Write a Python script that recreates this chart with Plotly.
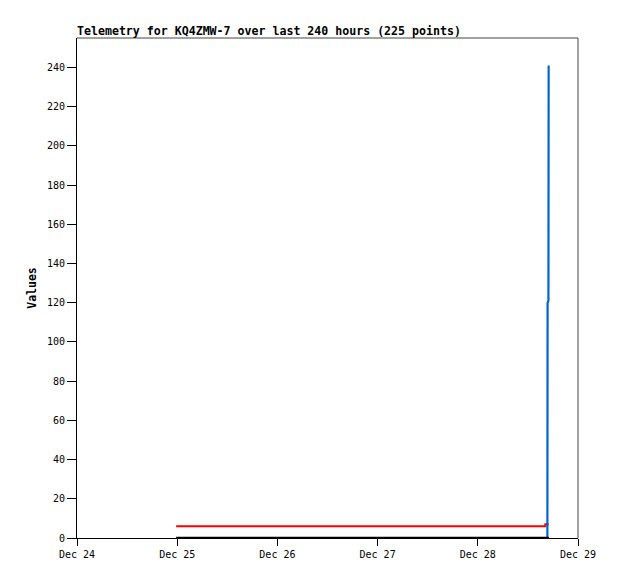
import plotly.graph_objects as go

# Data
red_times = ["2024-12-24 23:45", "2024-12-28 16:05", "2024-12-28 16:10", "2024-12-28 17:00"]
red_values = [6, 6, 7, 7]

black_times = ["2024-12-24 23:45", "2024-12-28 17:05"]
black_values = [0, 0]

blue_times = ["2024-12-24 23:45", "2024-12-28 16:40", "2024-12-28 16:43", "2024-12-28 16:55", "2024-12-28 16:58"]
blue_values = [0, 0, 120, 121, 241]

x_range = ["2024-12-24", "2024-12-29"]
y_range = [0, 255]
y_ticks = [0, 20, 40, 60, 80, 100, 120, 140, 160, 180, 200, 220, 240]

title_text = "Telemetry for KQ4ZMW-7 over last 240 hours (225 points)"
y_title = "Values"

MONO = "DejaVu Sans Mono, Liberation Mono, monospace"

W, H = 610, 571

fig = go.Figure()
fig.add_trace(go.Scatter(x=red_times, y=red_values, mode="lines",
                         line=dict(color="#ff0000", width=2, shape="hv"), showlegend=False))
fig.add_trace(go.Scatter(x=blue_times, y=blue_values, mode="lines",
                         line=dict(color="#0066cc", width=2.2), showlegend=False))
fig.add_trace(go.Scatter(x=black_times, y=black_values, mode="lines",
                         line=dict(color="#000000", width=2.5), showlegend=False))

fig.update_layout(
    width=W, height=H,
    margin=dict(l=69, r=40, t=30, b=41),
    paper_bgcolor="white", plot_bgcolor="white",
    font=dict(family=MONO, size=10, color="black"),
    title=dict(text="<b>" + title_text + "</b>", x=69/W, xanchor="left",
               y=1 - 23/H, yanchor="middle", yref="container",
               font=dict(family=MONO, size=11.6, color="black")),
    xaxis=dict(type="date", range=x_range, tickformat="%b %d", dtick=86400000,
               showgrid=False, zeroline=False, showline=True, linecolor="black", linewidth=1,
               ticks="outside", ticklen=7, tickwidth=1, tickcolor="black",
               tickfont=dict(family=MONO, size=10, color="black")),
    yaxis=dict(range=y_range, tickvals=y_ticks, showgrid=False, zeroline=False,
               showline=True, linecolor="black", linewidth=1,
               ticks="outside", ticklen=9, tickwidth=1, tickcolor="black",
               tickfont=dict(family=MONO, size=10, color="black"),
               title=dict(text="<b>" + y_title + "</b>", standoff=7,
                          font=dict(family=MONO, size=11.5, color="black"))),
    shapes=[
        dict(type="line", xref="paper", yref="paper", x0=0, x1=1, y0=1, y1=1,
             line=dict(color="#444444", width=1)),
        dict(type="line", xref="paper", yref="paper", x0=1, x1=1, y0=0, y1=1,
             line=dict(color="#444444", width=1)),
    ],
)

fig.write_html("out.html")
